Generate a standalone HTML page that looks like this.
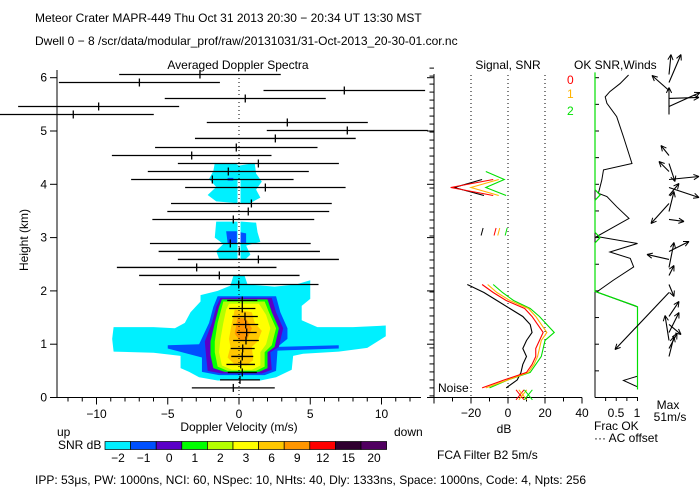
<!DOCTYPE html>
<html><head><meta charset="utf-8"><style>
html,body{margin:0;padding:0;background:#fff;}
svg{display:block;font-family:"Liberation Sans",sans-serif;}
text{fill:#000;font-size:12px;}
</style></head><body>
<svg id="chart" width="700" height="500" viewBox="0 0 700 500" xmlns="http://www.w3.org/2000/svg">
<defs><clipPath id="mainClip"><rect x="57" y="70" width="376" height="327.5"/></clipPath></defs>
<text x="35" y="22" font-size="13">Meteor Crater   MAPR-449   Thu Oct 31 2013 20:30 − 20:34 UT 13:30 MST</text>
<text x="35" y="45" font-size="12">Dwell   0 −  8    /scr/data/modular_prof/raw/20131031/31-Oct-2013_20-30-01.cor.nc</text>
<text x="238" y="69" text-anchor="middle">Averaged Doppler Spectra</text>
<text x="508" y="69" text-anchor="middle">Signal, SNR</text>
<text x="574" y="69">OK  SNR,Winds</text>
<text x="567" y="84" style="fill:#ff0000">0</text>
<text x="567" y="98" style="fill:#ffb400">1</text>
<text x="567" y="115" style="fill:#00e000">2</text>
<g id="contours" clip-path="url(#mainClip)"></g>
<g id="mainAxes"></g>
<g id="errbars"></g>
<g id="signal"></g>
<g id="ok"></g>
<g id="winds"></g>
<text x="28" y="240" text-anchor="middle" transform="rotate(-90 28 240)" font-size="11">Height (km)</text>
<text x="239" y="431" text-anchor="middle">Doppler Velocity (m/s)</text>
<text x="57" y="436">up</text>
<text x="394" y="436">down</text>
<text x="58" y="449">SNR dB</text>
<g id="cbar"></g>
<text x="504" y="433" text-anchor="middle">dB</text>
<text x="594" y="430" font-size="11">Frac OK</text>
<text x="594" y="442" font-size="11">··· AC offset</text>
<text x="668" y="409" text-anchor="middle" font-size="11">Max</text>
<text x="670" y="421" text-anchor="middle" font-size="11">51m/s</text>
<text x="437" y="459" font-size="11">FCA Filter B2   5m/s</text>
<text x="438" y="392" font-size="10">Noise</text>
<text x="35" y="484" font-size="11">IPP:  53μs,   PW: 1000ns,   NCI:   60,   NSpec: 10,  NHts: 40,   Dly: 1333ns,   Space: 1000ns,   Code: 4,   Npts: 256</text>
</svg>
<script>
// ---- data ----
const gateHeights=[0.18,0.33,0.47,0.62,0.77,0.92,1.07,1.22,1.37,1.52,1.67,1.82,2.12,2.29,2.44,2.59,2.74,2.89,3.34,3.49,3.64,3.94,4.09,4.24,4.39,4.54,4.69,4.86,5.01,5.16,5.31,5.46,5.61,5.76,5.91,6.06];
const meanVel=[-0.40,0.07,0.23,0.12,0.23,0.26,0.49,0.54,0.47,0.42,0.23,0.23,-0.02,-1.38,-2.97,1.36,0.02,-0.61,-0.40,0.65,0.87,1.85,-1.87,-0.75,1.36,-3.32,-0.19,2.55,7.60,3.39,-11.63,-9.85,0.44,7.39,-6.99,-2.74];
const velWidth=[2.91,1.40,1.02,1.00,0.77,0.84,0.90,0.70,0.88,0.90,0.92,1.06,5.6,5.63,5.6,5.65,5.66,5.64,5.68,5.68,5.64,5.63,5.7,5.65,5.65,5.6,5.7,5.64,5.65,5.65,5.65,5.65,5.65,5.67,5.65,5.67];
const snrLevels=["-2","-1","0","1","2","3","6","9","12","15","20"];
const snrColors=["#00f0ff","#0050ff","#5a00c8","#00ff00","#b4ff00","#ffff00","#ffc800","#ff9600","#ff0000","#300030","#500060"];
const contourLevelIdx=[0,0,0,1,1,1,1,2,3,4,5,6,7];
const contourPolys=[
[[-0.4,2.28],[0.4,2.28],[0.6,2.12],[2.5,2.08],[4.0,2.12],[5.0,2.2],[5.0,1.85],[4.4,1.72],[4.4,1.45],[5.5,1.32],[8,1.32],[10.3,1.35],[10.3,1.15],[9,0.93],[7,0.86],[4.5,0.82],[3.8,0.78],[3.7,0.52],[2.6,0.38],[1.5,0.32],[-1.5,0.32],[-2.8,0.38],[-3.5,0.48],[-4.1,0.55],[-4.1,0.78],[-6,0.84],[-8.8,0.86],[-8.9,1.1],[-8.8,1.32],[-6,1.32],[-4.5,1.3],[-3.8,1.4],[-3.4,1.6],[-2.7,1.8],[-2.7,1.92],[-1.5,2.0],[-0.6,2.1]],
[[-1.7,4.4],[-0.3,4.4],[0,4.35],[1.1,4.4],[1.2,4.2],[1.6,4.05],[1.2,3.9],[1.5,3.75],[0.8,3.65],[-0.3,3.65],[-1.6,3.68],[-2.2,3.8],[-1.6,3.95],[-2.1,4.1],[-1.8,4.25]],
[[-1.6,3.3],[0.2,3.3],[1.2,3.28],[1.3,3.1],[1.5,2.92],[0.5,2.85],[0.8,2.68],[0.4,2.58],[-0.3,2.58],[-1.4,2.6],[-1.6,2.75],[-1.1,2.88],[-1.7,3.0]],
[[-1.5,1.9],[2.6,1.9],[2.9,1.6],[3.4,1.3],[3.4,1.1],[2.7,0.95],[7,0.98],[7,0.92],[2.7,0.88],[2.6,0.5],[1.8,0.42],[-1.4,0.42],[-2.6,0.48],[-2.6,0.75],[-5,0.92],[-5,0.98],[-2.8,1.0],[-2.1,1.4],[-1.8,1.7]],
[[-0.8,4.12],[-0.4,4.12],[-0.4,4.07],[-0.8,4.07]],
[[-0.9,3.12],[-0.15,3.12],[-0.15,2.88],[-0.8,2.9]],
[[0.1,3.1],[0.5,3.08],[0.5,2.9],[0.1,2.9]],
[[-1.3,1.87],[2.3,1.87],[2.6,1.6],[3.1,1.3],[2.8,0.95],[2.2,0.85],[2.3,0.52],[1.6,0.45],[-1.2,0.45],[-2.2,0.5],[-2.3,0.75],[-2.4,1.05],[-1.9,1.4],[-1.6,1.7]],
[[-1.2,1.84],[2.0,1.84],[2.3,1.6],[2.8,1.3],[2.5,0.95],[2.0,0.85],[2.0,0.55],[1.4,0.48],[-1.0,0.48],[-1.8,0.55],[-2.0,0.8],[-2.0,1.05],[-1.7,1.4],[-1.4,1.7]],
[[-1.1,1.8],[1.8,1.8],[2.1,1.6],[2.6,1.3],[2.3,0.98],[1.8,0.85],[1.8,0.58],[1.2,0.5],[-0.8,0.5],[-1.5,0.58],[-1.7,0.85],[-1.7,1.05],[-1.5,1.4],[-1.2,1.7]],
[[-0.7,1.76],[1.4,1.76],[1.9,1.55],[2.2,1.3],[1.9,1.0],[1.5,0.85],[1.5,0.6],[0.9,0.52],[-0.5,0.52],[-1.2,0.6],[-1.4,0.85],[-1.3,1.1],[-1.1,1.4],[-0.9,1.65]],
[[-0.3,1.65],[0.9,1.6],[1.1,1.4],[1.6,1.25],[1.3,1.05],[0.9,0.95],[1.0,0.7],[0.5,0.6],[-0.3,0.62],[-0.8,0.75],[-0.6,0.95],[-0.7,1.1],[-0.5,1.4]],
[[-0.1,1.5],[0.5,1.48],[0.9,1.3],[0.6,1.1],[0.1,1.05],[-0.3,1.2]]
];
const sigHeights=[0.18,0.33,0.47,0.62,0.77,0.92,1.07,1.22,1.37,1.52,1.67,1.82,1.97,2.12];
const sigBlack=[-1,5,7,8,10,8,10,13,12,8,1,-6,-13,-22];
const snr0=[-14,-2,10,13,15,15,17,19,16,13,9,-1,-8,-14];
const snr1=[-12,0,11,14,16,17,18,21,18,15,11,1,-6,-11];
const snr2=[-10,0,12,15,18,19,20,25,21,17,12,3,-3,-8];
const upHeights=[4.24,4.09,3.94,3.79];
const upBlack=[null,-14,-29,-13];
const up0=[null,-8,-31,-8];
const up1=[null,-5,-20,-5];
const up2=[-12,-2,-12,-1];
const noiseDb=[6.5,8,11];
const okHeights=[6.05,5.89,5.74,5.64,5.52,5.27,4.89,4.39,4.27,4.08,3.83,3.77,3.58,3.36,3.02,2.89,2.73,2.61,2.45,2.2,1.98,1.7,1.0,0.4,0.32,0.2];
const okFrac=[0.79,0.59,0.35,0.24,0.28,0.51,0.67,0.87,0.2,0.16,0.08,0.28,0.51,0.8,0.04,1.0,0.35,0.83,0.91,0.43,0.04,1.0,1.0,1.0,0.67,1.0];
const okGreenH=[6.1,3.9,3.8,3.7,3.1,3.0,2.9,1.99,1.72,1.7,0.15];
const okGreenF=[0,0,0.12,0,0,0.12,0,0,0.95,1,1];
const windH=[6.06,5.91,5.76,5.61,5.46,5.31,4.54,4.39,4.24,4.09,3.94,3.79,3.64,3.49,3.34,2.74,2.59,2.44,2.29,2.12,1.97,1.52,1.37,1.22,1.07,0.92,0.77];
const windU=[2,12,-17,30,31,0,-8,6,-10,30,30,10,-18,5,15,20,-22,5,5,5,-54,10,12,10,-4,8,5];
const windV=[20,28,15,1,14,27,10,-18,10,3,-10,12,-20,20,-2,10,5,25,10,-12,-57,15,-10,20,25,15,20];

// ---- scales ----
const NS="http://www.w3.org/2000/svg";
const vx=v=>239+v*14.25, hy=h=>397.5-h*53.3, sx=d=>508+d*1.85, ox=f=>595+f*42.5;
function mk(tag,attrs,parent){const e=document.createElementNS(NS,tag);for(const k in attrs)e.setAttribute(k,attrs[k]);parent.appendChild(e);return e;}
function ln(p,x1,y1,x2,y2,extra){return mk('line',Object.assign({x1,y1,x2,y2,stroke:'#000','stroke-width':1},extra||{}),p);}

// contours
const cg=document.getElementById('contours');
contourPolys.forEach((poly,i)=>{
  const p=mk('polygon',{points:poly.map(q=>vx(q[0])+','+hy(q[1])).join(' '),fill:snrColors[contourLevelIdx[i]]},cg);
  
  
});
mk('rect',{x:237.5,y:180,width:3,height:95,fill:'#fff'},cg);

// main axes
const ma=document.getElementById('mainAxes');
ln(ma,57,70,57,397.5);ln(ma,57,397.5,421,397.5);ln(ma,434,74,434,397.5);
ln(ma,239,70,239,397.5,{'stroke-dasharray':'1,3'});
for(let h=0;h<=6;h++){ln(ma,50,hy(h),57,hy(h));ln(ma,427,hy(h),434,hy(h));const t=mk('text',{x:47,y:hy(h)+4,'text-anchor':'end'},ma);t.textContent=h;}
for(let h=0.03;h<=6.2;h+=0.15){ln(ma,429.5,hy(h),434,hy(h));}
for(let v=-12;v<=12;v++){const big=v%5===0;ln(ma,vx(v),397.5,vx(v),397.5+(big?7:4));
  if(big){const t=mk('text',{x:vx(v),y:418,'text-anchor':'middle'},ma);t.textContent=(v<0?'−':'')+Math.abs(v);}}

// error bars
const eb=document.getElementById('errbars');
gateHeights.forEach((h,i)=>{
  const y=hy(h),c=meanVel[i],w=velWidth[i];
  const l=ln(eb,Math.max(0,vx(c-w)),y,vx(c+w),y,{'stroke-width':1.3});
  
  
  ln(eb,vx(c),y-4,vx(c),y+4,{'stroke-width':1.3});
});

// colorbar
const cb=document.getElementById('cbar');
snrLevels.forEach((s,i)=>{
  const x=105+i*25.6;
  const r=mk('rect',{x,y:441.5,width:25.6,height:8,fill:snrColors[i],stroke:'#000','stroke-width':0.7},cb);
  
  
  const t=mk('text',{x:x+13,y:462,'text-anchor':'middle'},cb);t.textContent=s.replace('-','−');
});

// signal panel
const sg=document.getElementById('signal');
ln(sg,434,397.5,582,397.5);
[-20,0,20].forEach(d=>ln(sg,sx(d),75,sx(d),397.5,{'stroke-dasharray':'1,3'}));
for(let d=-40;d<=40;d+=10){ln(sg,sx(d),397.5,sx(d),397.5+(d%20===0?6:4));}
[-20,0,20,40].forEach(d=>{const t=mk('text',{x:sx(d),y:417,'text-anchor':'middle'},sg);t.textContent=(d<0?'−':'')+Math.abs(d);});
function series(p,H,V,col,name){let pts=[];const segs=[];H.forEach((h,i)=>{if(V[i]===null){if(pts.length)segs.push(pts);pts=[];}else pts.push(sx(V[i])+','+hy(h));});if(pts.length)segs.push(pts);
  segs.forEach(s=>{const e=mk('polyline',{points:s.join(' '),fill:'none',stroke:col,'stroke-width':1.1},p);});}
series(sg,sigHeights,sigBlack,'#000','signal-line');
series(sg,sigHeights,snr2,'#00e000','snr-2-line');
series(sg,sigHeights,snr1,'#ffb400','snr-1-line');
series(sg,sigHeights,snr0,'#ff0000','snr-0-line');
series(sg,upHeights,upBlack,'#000','signal-line-upper');
series(sg,upHeights,up2,'#00e000','snr-2-upper');
series(sg,upHeights,up1,'#ffb400','snr-1-upper');
series(sg,upHeights,up0,'#ff0000','snr-0-upper');
[[-14,'#000'],[-7,'#ff0000'],[-5,'#ffb400'],[-1,'#00e000']].forEach(a=>ln(sg,sx(a[0])-1,hy(3.04),sx(a[0])+1,hy(3.18),{stroke:a[1]}));
['#ff0000','#ffb400','#00e000'].forEach((c,i)=>{const x=sx(noiseDb[i]),y=hy(0.05);ln(sg,x-4,y-5,x+4,y+5,{stroke:c});ln(sg,x-4,y+5,x+4,y-5,{stroke:c});});

// ok panel
const og=document.getElementById('ok');
ln(og,595,75,595,397.5);ln(og,595,397.5,638,397.5);
for(let h=0;h<=6;h+=0.5){ln(og,595,hy(h),599,hy(h));}
[0.25,0.5,0.75,1].forEach(f=>ln(og,ox(f),397.5,ox(f),401));
const t1=mk('text',{x:616,y:417,'text-anchor':'middle'},og);t1.textContent='0.5';
const t2=mk('text',{x:637,y:417,'text-anchor':'middle'},og);t2.textContent='1';
const okl=mk('polyline',{points:okHeights.map((h,i)=>ox(okFrac[i])+','+hy(h)).join(' '),fill:'none',stroke:'#000','stroke-width':1},og);


const okg=mk('polyline',{points:okGreenH.map((h,i)=>ox(okGreenF[i])+','+hy(h)).join(' '),fill:'none',stroke:'#00e000','stroke-width':1.2},og);



// winds
const wg=document.getElementById('winds');
windH.forEach((h,i)=>{
  const x0=669,y0=hy(h),x1=x0+windU[i],y1=y0-windV[i];
  const l=ln(wg,x0,y0,x1,y1,{'stroke-width':1.1});
  
  
  const a=Math.atan2(y1-y0,x1-x0),s=6;
  ln(wg,x1,y1,x1-s*Math.cos(a-0.45),y1-s*Math.sin(a-0.45));
  ln(wg,x1,y1,x1-s*Math.cos(a+0.45),y1-s*Math.sin(a+0.45));
});
</script>
</body></html>
